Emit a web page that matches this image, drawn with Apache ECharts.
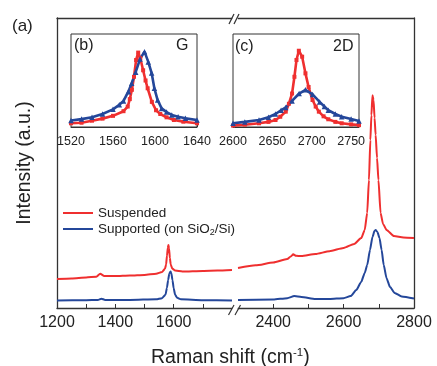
<!DOCTYPE html>
<html>
<head>
<meta charset="utf-8">
<script src="https://cdn.jsdelivr.net/npm/echarts@6/dist/echarts.min.js"></script>
<style>
  html, body { margin: 0; padding: 0; background: #fff; }
  #chart { width: 437px; height: 366px; }
</style>
</head>
<body>
<div id="chart"></div>
<script>
// main spectrum, low-shift part (D and G peaks) -- [shift, intensity a.u.]
const suspendedLeft = [
  [1200, 10.0], [1250, 10.2], [1300, 10.5], [1335, 10.8], [1348, 11.8], [1362, 11.0],
  [1400, 11.0], [1450, 11.2], [1500, 11.4], [1540, 11.8], [1560, 12.4], [1570, 13.5],
  [1574, 15.0], [1577, 18.0], [1580, 20.8], [1582, 21.7], [1584, 20.6], [1587, 17.2],
  [1590, 15.0], [1595, 13.6], [1605, 12.9], [1630, 12.6], [1700, 12.8], [1750, 12.9],
  [1800, 13.1]
]
const supportedLeft = [
  [1200, 2.6], [1300, 2.7], [1340, 2.8], [1352, 3.2], [1365, 2.8], [1450, 2.8],
  [1540, 3.0], [1560, 3.4], [1572, 4.6], [1577, 7.0], [1581, 9.6], [1585, 11.8],
  [1589, 12.6], [1592, 12.0], [1596, 9.6], [1600, 6.8], [1605, 4.6], [1612, 3.5],
  [1625, 3.0], [1700, 2.7], [1800, 2.6]
]
// main spectrum, high-shift part (2D peak)
const suspendedRight = [
  [2300, 13.8], [2350, 14.7], [2400, 15.7], [2440, 16.9], [2450, 17.8], [2457, 18.5],
  [2465, 18.0], [2480, 17.9], [2520, 18.6], [2560, 19.6], [2600, 20.7], [2630, 22.1],
  [2650, 24.1], [2660, 26.9], [2667, 32.8], [2672, 44.1], [2676, 57.9], [2679, 66.5],
  [2682, 73.4], [2685, 71.7], [2688, 65.5], [2691, 59.7], [2695, 51.7], [2699, 44.1],
  [2705, 32.8], [2712, 29.0], [2722, 26.9], [2743, 24.8], [2770, 24.3], [2800, 24.1]
]
const supportedRight = [
  [2300, 2.8], [2400, 2.9], [2440, 3.4], [2460, 4.1], [2480, 3.8], [2520, 3.1],
  [2560, 3.1], [2600, 3.4], [2620, 4.1], [2636, 6.2], [2650, 9.0], [2660, 12.1],
  [2667, 14.8], [2675, 20.0], [2682, 24.5], [2688, 26.6], [2691, 26.9], [2696, 26.2],
  [2702, 24.1], [2708, 20.0], [2714, 14.8], [2722, 10.3], [2732, 7.2], [2745, 5.2],
  [2765, 4.0], [2800, 3.3]
]
// inset (b): G peak
const suspendedG = [
  [1520, 4], [1530, 4.6], [1540, 6.8], [1550, 9], [1560, 12], [1570, 17], [1574, 22],
  [1576, 30], [1578, 40], [1580, 54], [1582, 72], [1584, 80], [1586, 74], [1588.7, 61],
  [1591, 50], [1593, 41.6], [1597, 27], [1601, 18], [1605, 14], [1611, 10.4], [1618, 7.5],
  [1627, 5.7], [1640, 4]
]
const supportedG = [
  [1520, 7], [1530, 8.5], [1540, 10.4], [1550, 14], [1560, 19], [1566, 24], [1570, 28],
  [1574.6, 38], [1577.8, 47], [1581.6, 59], [1585.7, 73], [1590, 81], [1593.6, 70],
  [1596.8, 58], [1599.4, 41.6], [1602.5, 29], [1606.3, 20], [1611, 16], [1616, 13],
  [1622, 11], [1629, 9.3], [1640, 7.5]
]
// inset (c): 2D peak
const suspended2D = [
  [2600, 1.5], [2615, 2.5], [2633, 4], [2645, 5.5], [2654, 7.5], [2660, 11], [2667, 16.5],
  [2671, 25], [2675, 36], [2678, 54], [2680.6, 72], [2683.6, 82], [2687.8, 75.6],
  [2692, 57.7], [2696, 43], [2701, 29], [2705, 22], [2709, 16.5], [2715, 11.5],
  [2721, 8.3], [2730, 5.5], [2738, 4], [2750, 2.8], [2760, 2]
]
const supported2D = [
  [2600, 4], [2615, 5.5], [2633, 7.5], [2645, 10.5], [2654, 14], [2661, 18], [2667, 21],
  [2675, 28], [2684, 36], [2692, 40], [2701, 35], [2710, 27], [2716, 22], [2721, 18],
  [2730, 14], [2738, 11], [2750, 8.5], [2760, 6.5]
]

// tick labels / tick positions
const leftLabels = [1200, 1400, 1600]
const leftTicks = [1200, 1300, 1400, 1500, 1600, 1700]
const rightLabels = [2400, 2600, 2800]
const rightTicks = [2400, 2500, 2600, 2700, 2800]
const gLabels = [1520, 1560, 1600, 1640]
const gTicks = [1520, 1540, 1560, 1580, 1600, 1620, 1640]
const dLabels = [2600, 2650, 2700, 2750]
const dTicks = [2600, 2625, 2650, 2675, 2700, 2725, 2750]

const RED = '#ef2f2f'
const BLUE = '#24479a'
const INK = '#222'
const FONT = 'Liberation Sans, Arial, sans-serif'
const SUPPORTED = 'Supported (on SiO2/Si)'

const chart = echarts.init(document.getElementById('chart'), null, { renderer: 'canvas' })

const frameLine = { show: true, lineStyle: { color: '#333', width: 1.3 } }
const plain = (v) => String(v)

// main bottom axis
const mainX = (grid, min, max, labels, ticks) => ({
  type: 'value', gridIndex: grid, min, max, position: 'bottom',
  axisLine: frameLine,
  axisTick: { show: true, inside: true, length: 4, customValues: ticks, lineStyle: { color: '#333' } },
  axisLabel: { customValues: labels, formatter: plain, fontSize: 16, color: INK, fontFamily: FONT, margin: 7 },
  splitLine: { show: false },
})
// plain top edge of the frame
const topX = (grid, min, max) => ({
  type: 'value', gridIndex: grid, min, max, position: 'top',
  axisLine: frameLine, axisTick: { show: false }, axisLabel: { show: false }, splitLine: { show: false },
})
const insetX = (grid, min, max, labels, ticks) => ({
  type: 'value', gridIndex: grid, min, max,
  axisLine: { show: true, lineStyle: { color: '#333', width: 1 } },
  axisTick: { show: true, inside: true, length: 3, customValues: ticks, lineStyle: { color: '#333' } },
  axisLabel: { customValues: labels, formatter: plain, fontSize: 12.5, color: INK, fontFamily: FONT, margin: 8 },
  splitLine: { show: false },
})
const hiddenY = (grid) => ({ type: 'value', gridIndex: grid, min: 0, max: 100, show: false })

// xAxis 0/1 sit in grids 0/1, whose y axes are 0/1
const mainLine = (name, color, xi, data) => ({
  name, type: 'line', xAxisIndex: xi, yAxisIndex: xi, data,
  symbol: 'none', smooth: 0.2, smoothMonotone: 'x',
  lineStyle: { color, width: 2 }, itemStyle: { color },
})
// xAxis 2/3 sit in grids 2/3, y axes 2/3
const insetLine = (name, color, axis, symbol, size, data) => ({
  name, type: 'line', xAxisIndex: axis, yAxisIndex: axis, data,
  symbol, symbolSize: size, showSymbol: true, showAllSymbol: true,
  lineStyle: { color, width: 2.6 }, itemStyle: { color }, z: 5,
})

const option = {
  animation: false,
  backgroundColor: '#fff',
  textStyle: { fontFamily: FONT },
  grid: [
    { left: 57, top: 18, width: 175, bottom: 58 },
    { left: 238, right: 23, top: 18, bottom: 58 },
    { left: 71, top: 34, width: 126, height: 93, show: true, borderColor: '#333', borderWidth: 1, backgroundColor: '#fff', z: 3 },
    { left: 233, top: 34, width: 126, height: 93, show: true, borderColor: '#333', borderWidth: 1, backgroundColor: '#fff', z: 3 },
  ],
  xAxis: [
    mainX(0, 1200, 1800, leftLabels, leftTicks),
    mainX(1, 2300, 2800, rightLabels, rightTicks),
    insetX(2, 1520, 1640, gLabels, gTicks),
    insetX(3, 2600, 2760, dLabels, dTicks),
    topX(0, 1200, 1800),
    topX(1, 2300, 2800),
  ],
  yAxis: [
    {
      type: 'value', gridIndex: 0, min: 0, max: 100, position: 'left',
      axisLine: frameLine, axisTick: { show: false }, axisLabel: { show: false }, splitLine: { show: false },
      name: 'Intensity (a.u.)', nameLocation: 'middle', nameGap: 22,
      nameTextStyle: { fontSize: 19.5, color: INK, fontFamily: FONT },
    },
    {
      type: 'value', gridIndex: 1, min: 0, max: 100, position: 'right',
      axisLine: frameLine, axisTick: { show: false }, axisLabel: { show: false }, splitLine: { show: false },
    },
    hiddenY(2),
    hiddenY(3),
  ],
  legend: {
    data: ['Suspended', SUPPORTED],
    orient: 'vertical', left: 63, top: 206, padding: 0,
    icon: 'rect', itemWidth: 30, itemHeight: 2, itemGap: 2,
    formatter: (name) => name === SUPPORTED
      ? '{a|Supported (on SiO}{sub|2}{a|/Si)}'
      : '{a|' + name + '}',
    textStyle: {
      color: INK, fontFamily: FONT, fontSize: 13.5,
      rich: {
        a: { fontSize: 13.5, lineHeight: 16, color: INK, fontFamily: FONT },
        sub: { fontSize: 9, lineHeight: 10, verticalAlign: 'bottom', color: INK, fontFamily: FONT },
      },
    },
  },
  title: {
    text: '{a|Raman shift (cm}{sup|-1}{a|)}',
    left: 151, top: 347, padding: 0,
    textStyle: {
      fontWeight: 'normal',
      rich: {
        a: { fontSize: 19.5, lineHeight: 22, color: INK, fontFamily: FONT, fontWeight: 'normal' },
        sup: { fontSize: 11.5, lineHeight: 10, verticalAlign: 'top', color: INK, fontFamily: FONT, fontWeight: 'normal' },
      },
    },
  },
  graphic: [
    { type: 'text', left: 12, top: 18, style: { text: '(a)', fontSize: 17, fill: INK, fontFamily: FONT } },
    { type: 'text', left: 74, top: 38, z: 10, style: { text: '(b)', fontSize: 16, fill: INK, fontFamily: FONT } },
    { type: 'text', left: 176, top: 38, z: 10, style: { text: 'G', fontSize: 16, fill: INK, fontFamily: FONT } },
    { type: 'text', left: 235, top: 39, z: 10, style: { text: '(c)', fontSize: 16, fill: INK, fontFamily: FONT } },
    { type: 'text', left: 333, top: 39, z: 10, style: { text: '2D', fontSize: 16, fill: INK, fontFamily: FONT } },
    // axis break marks
    { type: 'rect', shape: { x: 232.5, y: 12, width: 5, height: 12 }, style: { fill: '#fff' }, z: 20 },
    { type: 'rect', shape: { x: 232.5, y: 303, width: 5, height: 12 }, style: { fill: '#fff' }, z: 20 },
    { type: 'line', shape: { x1: 229, y1: 24, x2: 234, y2: 14 }, style: { stroke: '#333', lineWidth: 1.2 }, z: 21 },
    { type: 'line', shape: { x1: 234, y1: 24, x2: 239, y2: 14 }, style: { stroke: '#333', lineWidth: 1.2 }, z: 21 },
    { type: 'line', shape: { x1: 228.5, y1: 315, x2: 234, y2: 305 }, style: { stroke: '#333', lineWidth: 1.2 }, z: 21 },
    { type: 'line', shape: { x1: 235, y1: 315, x2: 240.5, y2: 305 }, style: { stroke: '#333', lineWidth: 1.2 }, z: 21 },
  ],
  series: [
    mainLine('Suspended', RED, 0, suspendedLeft),
    mainLine(SUPPORTED, BLUE, 0, supportedLeft),
    mainLine('Suspended', RED, 1, suspendedRight),
    mainLine(SUPPORTED, BLUE, 1, supportedRight),
    insetLine('Suspended G', RED, 2, 'rect', 4, suspendedG),
    insetLine('Supported G', BLUE, 2, 'triangle', 5.5, supportedG),
    insetLine('Suspended 2D', RED, 3, 'rect', 4, suspended2D),
    insetLine('Supported 2D', BLUE, 3, 'triangle', 5.5, supported2D),
  ],
}

chart.setOption(option)
window.addEventListener('resize', () => chart.resize())
</script>
</body>
</html>
